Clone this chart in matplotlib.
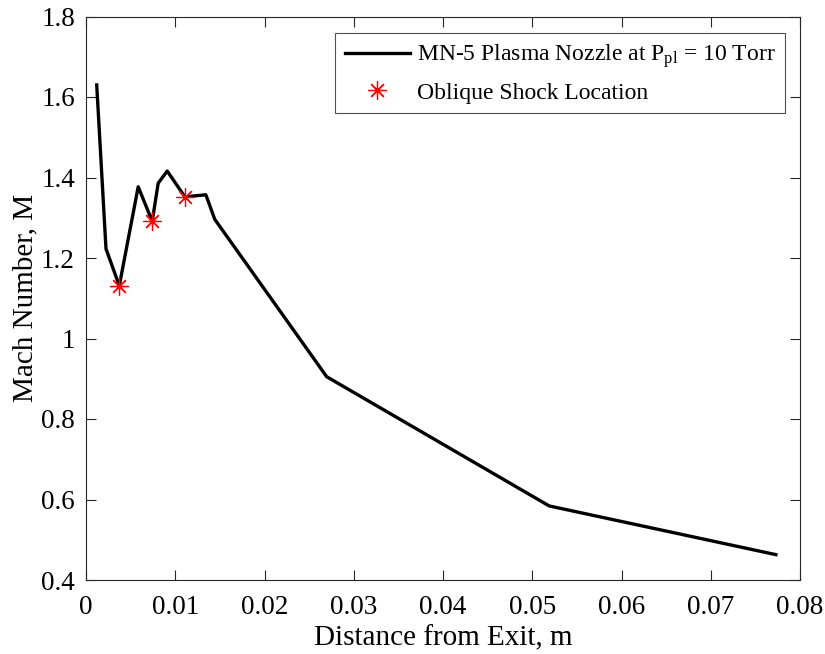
import matplotlib
matplotlib.use("Agg")
import matplotlib.pyplot as plt

plt.rcParams['font.family'] = ['Liberation Serif', 'DejaVu Serif']
plt.rcParams['mathtext.fontset'] = 'custom'
plt.rcParams['mathtext.rm'] = 'Liberation Serif'
plt.rcParams['mathtext.it'] = 'Liberation Serif:italic'

# Mach number profile along the plume
distance = [0.0012, 0.00224, 0.00373, 0.00585, 0.00742, 0.00809, 0.0091,
            0.01108, 0.01343, 0.01443, 0.02697, 0.0519, 0.0773]
mach = [1.630, 1.223, 1.131, 1.377, 1.291, 1.386, 1.416,
        1.352, 1.357, 1.296, 0.905, 0.584, 0.463]

# Oblique shock positions
shock_x = [0.00373, 0.00742, 0.01108]
shock_m = [1.131, 1.291, 1.352]

xticks = [0, 0.01, 0.02, 0.03, 0.04, 0.05, 0.06, 0.07, 0.08]
xtick_labels = ['0', '0.01', '0.02', '0.03', '0.04', '0.05', '0.06', '0.07', '0.08']
yticks = [0.4, 0.6, 0.8, 1.0, 1.2, 1.4, 1.6, 1.8]
ytick_labels = ['0.4', '0.6', '0.8', '1', '1.2', '1.4', '1.6', '1.8']

fig = plt.figure(figsize=(8.25, 6.54), dpi=100)
ax = fig.add_axes([86 / 825, 1 - 580 / 654, 714 / 825, 563.5 / 654])

ax.plot(distance, mach, color='black', linewidth=2.4,
        label=r'MN-5 Plasma Nozzle at P$_{\mathrm{pl}}$ = 10 Torr')
ax.plot(shock_x, shock_m, linestyle='none', marker=(8, 2, 0), markersize=13,
        markeredgewidth=0.9, color='red', label='Oblique Shock Location')

ax.set_xlim(0, 0.08)
ax.set_ylim(0.4, 1.8)
ax.set_xticks(xticks)
ax.set_xticklabels(xtick_labels)
ax.set_yticks(yticks)
ax.set_yticklabels(ytick_labels)

axis_color = '#262626'
for s in ax.spines.values():
    s.set_color(axis_color)
    s.set_linewidth(0.8)
ax.tick_params(direction='in', length=7, width=0.8, colors=axis_color,
               labelsize=19.5, top=True, right=True)
ax.tick_params(axis='x', pad=11)
ax.tick_params(axis='y', pad=8)
for lbl in ax.get_xticklabels() + ax.get_yticklabels():
    lbl.set_color('black')

ax.set_xlabel('Distance from Exit, m', fontsize=21, color='black', labelpad=4)
ax.set_ylabel('Mach Number, M', fontsize=21, color='black', labelpad=2)

leg = ax.legend(loc='upper right', fontsize=17, frameon=True, fancybox=False,
                edgecolor=axis_color, handlelength=2.75, borderpad=0.4,
                labelspacing=0.5, handletextpad=0.3, borderaxespad=0,
                bbox_to_anchor=((785 - 86) / 714, (580 - 33) / 563.5))
leg.get_frame().set_linewidth(0.8)

fig.savefig('out.png', dpi=100)
